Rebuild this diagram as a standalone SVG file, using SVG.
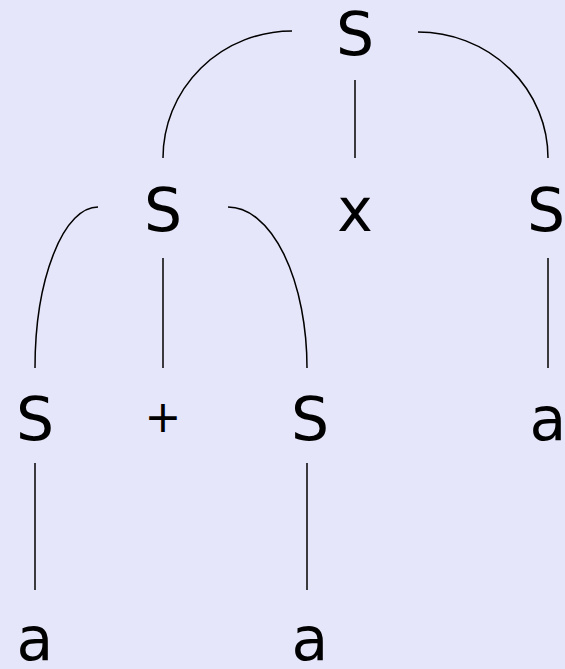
<svg xmlns="http://www.w3.org/2000/svg" width="565" height="669" viewBox="0 0 565 669">
<style>
.t{font-family:"DejaVu Sans","Liberation Sans",sans-serif;font-size:60px;fill:#000;text-anchor:middle}
.p{font-size:44px}
.c{fill:none;stroke:#000;stroke-width:1.5}
</style>
<rect width="565" height="669" fill="#e6e6fa"/>
<g id="connectors">
<path class="c" d="M292 31 A129 127 0 0 0 163 158"/>
<path class="c" d="M418 32 A130 126 0 0 1 548 158"/>
<path class="c" d="M355 80 V158"/>
<path class="c" d="M98 207 A63 161 0 0 0 35 368"/>
<path class="c" d="M228 207 A79 161 0 0 1 307 368"/>
<path class="c" d="M163 258 V368"/>
<path class="c" d="M548 258 V368"/>
<path class="c" d="M35 463 V590"/>
<path class="c" d="M307 463 V590"/>
</g>
<g id="n1"><text class="t" x="355" y="55">S</text></g>
<g id="n2"><text class="t" x="163" y="231">S</text></g>
<g id="n3"><text class="t" x="355" y="231">x</text></g>
<g id="n4"><text class="t" x="546" y="231">S</text></g>
<g id="n5"><text class="t" x="35" y="440">S</text></g>
<g id="n6"><text class="t p" x="163" y="432">+</text></g>
<g id="n7"><text class="t" x="310" y="440">S</text></g>
<g id="n8"><text class="t" x="548" y="440">a</text></g>
<g id="n9"><text class="t" x="35" y="660">a</text></g>
<g id="n10"><text class="t" x="310" y="660">a</text></g>
</svg>
